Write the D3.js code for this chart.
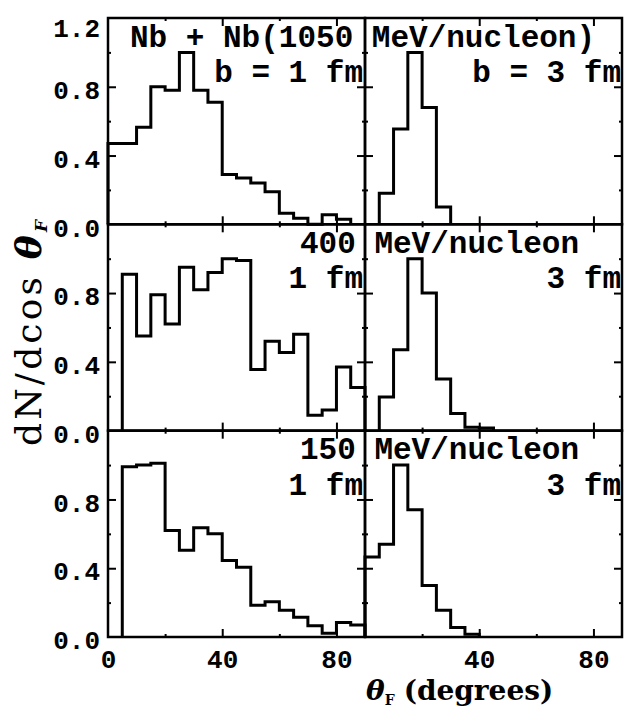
<!DOCTYPE html>
<html>
<head>
<meta charset="utf-8">
<script src="https://cdn.jsdelivr.net/npm/d3@7"></script>
<style>
  html, body { margin: 0; padding: 0; background: #fff; }
  svg { display: block; }
</style>
</head>
<body>
<svg id="chart" width="624" height="715"></svg>
<script>
// Fragment flow-angle distributions, Nb + Nb, 5-degree bins over 0–90 degrees
const binEdges = d3.range(0, 95, 5);

// b = 1 fm (left column) and b = 3 fm (right column), one array per beam energy
const nb1050b1 = [0.47, 0.47, 0.565, 0.80, 0.78, 1.00, 0.78, 0.71, 0.29, 0.27, 0.24, 0.19, 0.065, 0.035, 0, 0.055, 0.03, 0];
const nb1050b3 = [0, 0.18, 0.555, 1.00, 0.68, 0.10, 0, 0, 0, 0, 0, 0, 0, 0, 0, 0, 0, 0];
const nb400b1  = [0, 0.91, 0.55, 0.79, 0.62, 0.95, 0.82, 0.92, 1.00, 0.99, 0.355, 0.52, 0.455, 0.56, 0.09, 0.12, 0.37, 0.25];
const nb400b3  = [0, 0.195, 0.47, 1.00, 0.80, 0.30, 0.10, 0.02, 0.015, 0, 0, 0, 0, 0, 0, 0, 0, 0];
const nb150b1  = [0, 0.99, 1.00, 1.01, 0.62, 0.505, 0.635, 0.60, 0.445, 0.405, 0.185, 0.205, 0.155, 0.115, 0.065, 0.022, 0.085, 0.07];
const nb150b3  = [0.466, 0.54, 1.00, 0.74, 0.30, 0.155, 0.055, 0.016, 0, 0, 0, 0, 0, 0, 0, 0, 0, 0];

// Axis ticks and labels
const yMajor = [0.4, 0.8];
const yMinor = [0.2, 0.6, 1.0];
const xMajor = [40, 80];
const xMinor = [20, 60];
const yLabelsTop = [0, 0.4, 0.8, 1.2];
const yLabelsOther = [0, 0.4, 0.8];
const xLabelsLeft = [0, 40, 80];
const xLabelsRight = [40, 80];

// Panel annotations
const energyLabels = ["Nb + Nb(1050 MeV/nucleon)", "400 MeV/nucleon", "150 MeV/nucleon"];
const impactLabelsLeft = ["b = 1 fm", "1 fm", "1 fm"];
const impactLabelsRight = ["b = 3 fm", "3 fm", "3 fm"];

const panels = [
  { row: 0, col: 0, values: nb1050b1 },
  { row: 0, col: 1, values: nb1050b3 },
  { row: 1, col: 0, values: nb400b1 },
  { row: 1, col: 1, values: nb400b3 },
  { row: 2, col: 0, values: nb150b1 },
  { row: 2, col: 1, values: nb150b3 }
];

// Layout
const colLeft = [108, 365], colWidth = 257;
const rowTop = [18, 224.3, 430.7], rowHeight = 206.3;
const monoFont = "'Liberation Mono', 'DejaVu Sans Mono', monospace";
const serifFont = "'DejaVu Serif', 'Liberation Serif', serif";

const svg = d3.select("#chart");
svg.append("rect").attr("width", 624).attr("height", 715).attr("fill", "#fff");

const xScales = colLeft.map(x0 => d3.scaleLinear().domain([0, 90]).range([x0, x0 + colWidth]));
const yScales = rowTop.map(y0 => d3.scaleLinear().domain([0, 1.2]).range([y0 + rowHeight, y0]));

const stepLine = d3.line()
  .x(d => d[0])
  .y(d => d[1])
  .curve(d3.curveStepAfter);

function styleTicks(g) {
  g.select(".domain").remove();
  g.selectAll(".tick line").attr("stroke", "#000").attr("stroke-width", 2);
  g.selectAll(".tick text").remove();
}

panels.forEach(p => {
  const x = xScales[p.col], y = yScales[p.row];
  const [x0, x1] = x.range();
  const [y1, y0] = y.range();
  const g = svg.append("g");

  // Inward ticks on all four edges
  const edges = [
    { axis: d3.axisRight(y), tf: `translate(${x0},0)`, major: yMajor, minor: yMinor },
    { axis: d3.axisLeft(y), tf: `translate(${x1},0)`, major: yMajor, minor: yMinor },
    { axis: d3.axisBottom(x), tf: `translate(0,${y0})`, major: xMajor, minor: xMinor },
    { axis: d3.axisTop(x), tf: `translate(0,${y1})`, major: xMajor, minor: xMinor }
  ];
  edges.forEach(e => {
    g.append("g").attr("transform", e.tf)
      .call(e.axis.tickValues(e.major).tickSize(8).tickFormat(""))
      .call(styleTicks);
    g.append("g").attr("transform", e.tf)
      .call(e.axis.tickValues(e.minor).tickSize(3).tickFormat(""))
      .call(styleTicks);
  });

  // Panel frame
  g.append("rect")
    .attr("x", x0).attr("y", y0)
    .attr("width", x1 - x0).attr("height", y1 - y0)
    .attr("fill", "none").attr("stroke", "#000").attr("stroke-width", 2.5);

  // Histogram outline
  const v = p.values;
  let i0 = v.findIndex(d => d > 0);
  let i1 = v.length - 1;
  while (i1 > 0 && v[i1] === 0) i1--;
  const pts = [[x(binEdges[i0]), y(0)]];
  for (let i = i0; i <= i1; i++) pts.push([x(binEdges[i]), y(v[i])]);
  pts.push([x(binEdges[i1 + 1]), y(0)]);
  g.append("path")
    .attr("d", stepLine(pts))
    .attr("fill", "none")
    .attr("stroke", "#000")
    .attr("stroke-width", 3)
    .attr("stroke-linejoin", "miter");
});

// Panel annotations
const annot = svg.append("g")
  .attr("font-family", monoFont)
  .attr("font-weight", "bold")
  .attr("font-size", 31)
  .attr("fill", "#000");

energyLabels.forEach((t, r) => {
  annot.append("text")
    .attr("x", r === 0 ? 130 : 300)
    .attr("y", rowTop[r] + 28.5)
    .attr("xml:space", "preserve")
    .text(t);
  annot.append("text")
    .attr("x", colLeft[0] + colWidth - 2)
    .attr("y", rowTop[r] + 64)
    .attr("text-anchor", "end")
    .attr("xml:space", "preserve")
    .text(impactLabelsLeft[r]);
  annot.append("text")
    .attr("x", colLeft[1] + colWidth - 1)
    .attr("y", rowTop[r] + 64)
    .attr("text-anchor", "end")
    .attr("xml:space", "preserve")
    .text(impactLabelsRight[r]);
});

// Y tick labels (left column only)
rowTop.forEach((t, r) => {
  const values = r === 0 ? yLabelsTop : yLabelsOther;
  svg.append("g")
    .attr("transform", `translate(${colLeft[0]},0)`)
    .call(d3.axisLeft(yScales[r]).tickValues(values).tickSize(0).tickPadding(8).tickFormat(d3.format(".1f")))
    .call(g => g.select(".domain").remove())
    .call(g => g.selectAll("text")
      .attr("font-family", monoFont)
      .attr("font-weight", "bold")
      .attr("font-size", 26)
      .attr("fill", "#000")
      .attr("dy", d => d === 1.2 ? "0.72em" : "0.45em"));
});

// X tick labels (bottom row)
[[0, xLabelsLeft], [1, xLabelsRight]].forEach(([c, values]) => {
  svg.append("g")
    .attr("transform", `translate(0,${rowTop[2] + rowHeight})`)
    .call(d3.axisBottom(xScales[c]).tickValues(values).tickSize(0).tickPadding(13).tickFormat(d3.format("d")))
    .call(g => g.select(".domain").remove())
    .call(g => g.selectAll("text")
      .attr("font-family", monoFont)
      .attr("font-weight", "bold")
      .attr("font-size", 26)
      .attr("fill", "#000"));
});

// X axis title
const xt = svg.append("text")
  .attr("x", 366).attr("y", 700)
  .attr("font-family", serifFont)
  .attr("font-weight", "bold")
  .attr("font-size", 28)
  .attr("fill", "#000");
xt.append("tspan").attr("font-style", "italic").text("θ");
xt.append("tspan").attr("font-size", 14).attr("dy", 5).text("F");
xt.append("tspan").attr("dy", -5).attr("dx", 9).text("(degrees)");

// Y axis title
const yt = svg.append("text")
  .attr("transform", "translate(41,446) rotate(-90)")
  .attr("font-family", serifFont)
  .attr("font-size", 36)
  .attr("textLength", 226)
  .attr("lengthAdjust", "spacing")
  .attr("fill", "#000");
yt.append("tspan").text("dN/dcos ");
yt.append("tspan").attr("font-style", "italic").attr("font-weight", "bold").text("θ");
yt.append("tspan").attr("font-size", 17).attr("font-weight", "bold").attr("font-style", "italic").attr("dy", 6).text("F");
</script>
</body>
</html>
